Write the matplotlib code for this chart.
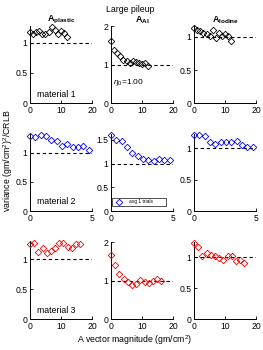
import numpy as np
import matplotlib
matplotlib.use("Agg")
import matplotlib.pyplot as plt
from matplotlib.ticker import FuncFormatter

plt.rcParams["font.family"] = ["Liberation Sans", "DejaVu Sans"]
plt.rcParams["mathtext.fontset"] = "custom"
plt.rcParams["mathtext.rm"] = "Liberation Sans"
plt.rcParams["mathtext.bf"] = "Liberation Sans:bold"
plt.rcParams["mathtext.it"] = "Liberation Sans:italic"

# ---- data ----
x_row1 = [0, 1, 2, 3, 4, 5, 6, 7, 8, 9, 10, 11, 12]
x_row2 = [0, 0.43, 0.86, 1.29, 1.72, 2.15, 2.58, 3.01, 3.44, 3.87, 4.3, 4.73]
x_row3 = [0, 1.35, 2.7, 4.05, 5.4, 6.75, 8.1, 9.45, 10.8, 12.15, 13.5, 14.85, 16.2]

plastic_1 = [1.17, 1.14, 1.17, 1.19, 1.15, 1.14, 1.17, 1.26, 1.20, 1.14, 1.19, 1.16, 1.10]
al_1 = [1.61, 1.39, 1.30, 1.22, 1.13, 1.09, 1.04, 1.09, 1.06, 1.04, 1.03, 1.04, 0.96]
iodine_1 = [1.14, 1.11, 1.09, 1.06, 1.04, 1.01, 1.11, 0.98, 1.06, 1.01, 1.04, 1.01, 0.94]

plastic_2 = [1.28, 1.27, 1.31, 1.28, 1.21, 1.20, 1.12, 1.15, 1.09, 1.10, 1.12, 1.05]
al_2 = [1.60, 1.49, 1.47, 1.35, 1.22, 1.15, 1.10, 1.07, 1.06, 1.10, 1.07, 1.07]
iodine_2 = [1.22, 1.21, 1.20, 1.11, 1.07, 1.10, 1.11, 1.10, 1.12, 1.05, 1.03, 1.03]

plastic_3 = [1.25, 1.27, 1.11, 1.19, 1.10, 1.13, 1.18, 1.27, 1.27, 1.20, 1.19, 1.25, 1.25]
al_3 = [1.68, 1.40, 1.17, 1.04, 0.97, 0.90, 0.92, 1.02, 0.97, 0.94, 0.98, 1.04, 1.00]
iodine_3 = [1.23, 1.17, 1.01, 1.07, 1.04, 1.02, 0.99, 0.96, 1.01, 1.01, 0.93, 0.96, 0.91]

titles = [r"$\mathbf{A}_{\mathbf{plastic}}$", r"$\mathbf{A}_{\mathbf{Al}}$", r"$\mathbf{A}_{\mathbf{Iodine}}$"]
row_x = [x_row1, x_row2, x_row3]
row_y = [[plastic_1, al_1, iodine_1],
         [plastic_2, al_2, iodine_2],
         [plastic_3, al_3, iodine_3]]
row_colors = ["black", "#0000ff", "#ff0000"]
row_xmax = [20, 5, 20]
row_xticks = [[0, 10, 20], [0, 5], [0, 10, 20]]
ylims = [[1.27, 2.0, 1.16], [1.32, 1.62, 1.23], [1.28, 2.0, 1.24]]
yticks = [[[0, 0.5, 1], [0, 1, 2], [0, 0.5, 1]],
          [[0, 0.5, 1], [0, 0.5, 1, 1.5], [0, 0.5, 1]],
          [[0, 0.5, 1], [0, 1, 2], [0, 0.5, 1]]]

# =========================
# LAYOUT
# =========================
fig = plt.figure(figsize=(2.63, 3.5), dpi=100)
lefts = [0.114, 0.422, 0.738]
bottoms = [0.705, 0.397, 0.088]
W, H = 0.236, 0.22

fmt = FuncFormatter(lambda v, p: f"{v:g}")

for r in range(3):
    for c in range(3):
        ax = fig.add_axes([lefts[c], bottoms[r], W, H])
        ax.plot(row_x[r], row_y[r][c], linestyle="none", marker="D",
                markersize=3.3, markerfacecolor="none", markeredgewidth=0.6,
                color=row_colors[r], label="avg 1 trials", clip_on=False, zorder=3)
        ax.plot([0, row_xmax[r]], [1, 1], "k--", linewidth=0.8, dashes=(3, 2.5))
        ax.set_xlim(0, row_xmax[r])
        ax.set_ylim(0, ylims[r][c])
        ax.set_xticks(row_xticks[r])
        ax.set_yticks(yticks[r][c])
        ax.xaxis.set_major_formatter(fmt)
        ax.yaxis.set_major_formatter(fmt)
        ax.spines["top"].set_visible(False)
        ax.spines["right"].set_visible(False)
        ax.spines["left"].set_linewidth(0.7)
        ax.spines["bottom"].set_linewidth(0.7)
        ax.tick_params(direction="in", length=2, width=0.6, labelsize=6.2, pad=2)
        ax.patch.set_alpha(0)

        if r == 0:
            ax.set_title(titles[c], fontsize=6.5, pad=2)
        if c == 0:
            ax.text(0.12, 0.06, f"material {r + 1}", transform=ax.transAxes,
                    fontsize=6.3, ha="left", va="bottom")
        if r == 0 and c == 1:
            ax.text(0.03, 0.2, r"$\eta_0$=1.00", transform=ax.transAxes,
                    fontsize=6, ha="left", va="bottom")
        if r == 1 and c == 1:
            leg = ax.legend(loc="lower left", bbox_to_anchor=(0.01, 0.07, 0.88, 0.13),
                            mode="expand", fontsize=3.5, frameon=True, fancybox=False,
                            borderpad=0.3, handlelength=2.5, borderaxespad=0)
            leg.get_frame().set_edgecolor("black")
            leg.get_frame().set_linewidth(0.6)

fig.text(0.495, 0.985, "Large pileup", ha="center", va="top", fontsize=6.3)
fig.text(0.004, 0.54, r"variance (gm/cm$^2$)$^2$/CRLB", rotation=90,
         ha="left", va="center", fontsize=6.3)
fig.text(0.51, 0.008, r"A vector magnitude (gm/cm$^2$)", ha="center", va="bottom",
         fontsize=6.3)

fig.savefig("out.png", dpi=100)
